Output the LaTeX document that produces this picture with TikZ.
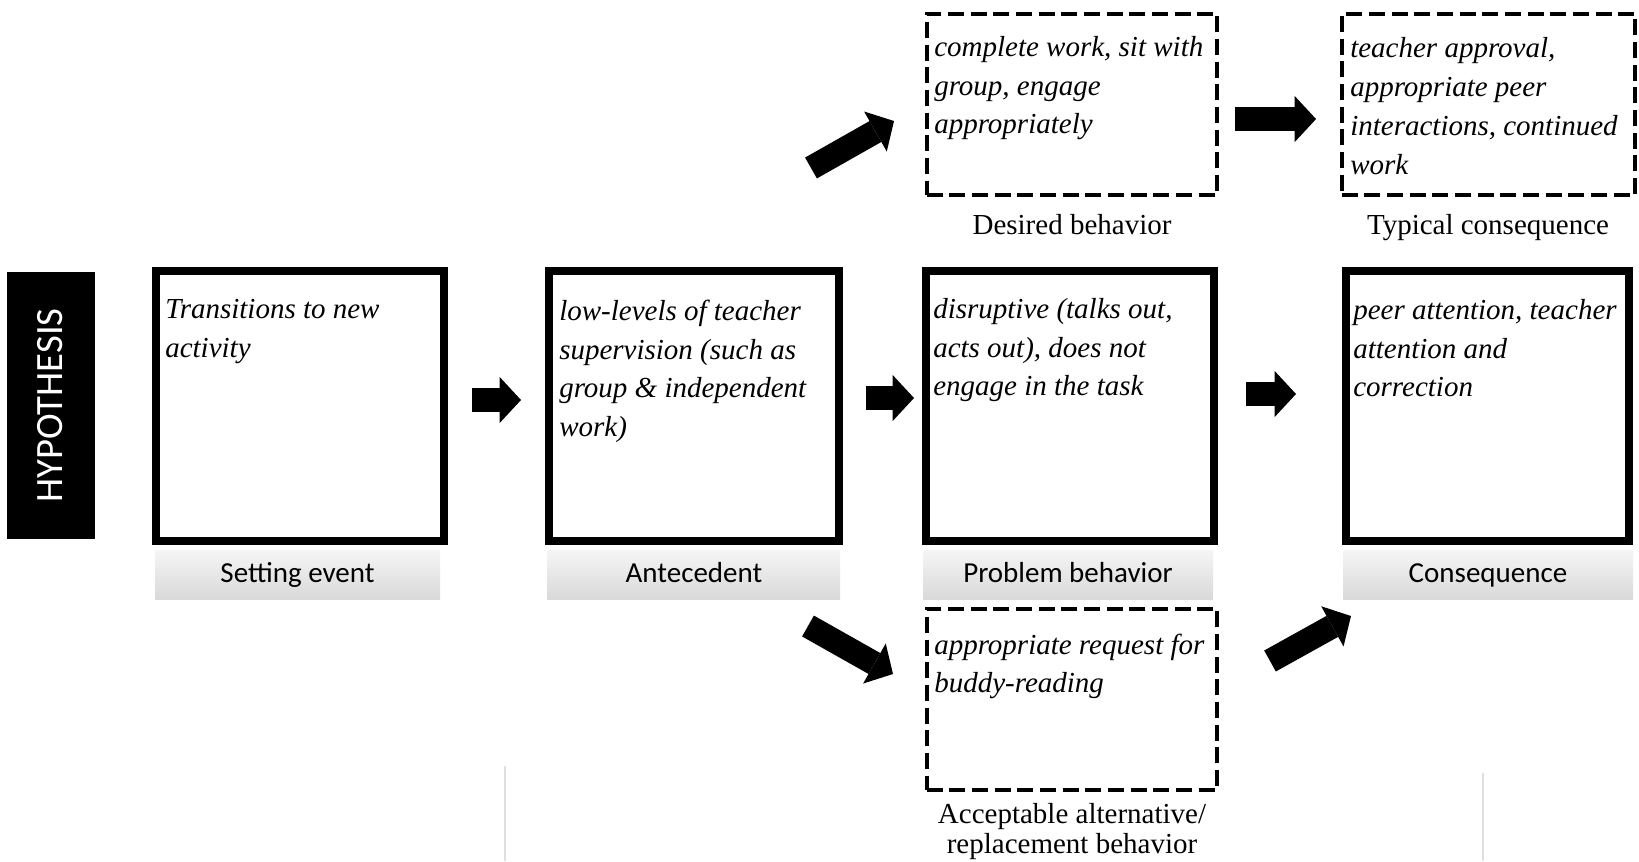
\documentclass[tikz,border=0pt]{standalone}
\usepackage{fontspec}
\setmainfont{Liberation Serif}[ItalicFont={Liberation Serif Italic}]
\newfontfamily\labelsans{Carlito}
\usetikzlibrary{arrows.meta,calc}

\begin{document}
\begin{tikzpicture}[x=0.75pt,y=-0.75pt,
  solidbox/.style={draw=black, line width=6pt, fill=white, inner sep=0pt, minimum height=202.5pt},
  dashbox/.style={draw=black, line width=3pt, dash pattern=on 12pt off 5pt, fill=white, inner sep=0pt, minimum height=136.1pt},
  itext/.style={anchor=north west, inner sep=0pt, align=left, font=\fontsize{21.75pt}{29pt}\selectfont\itshape},
  dtext/.style={itext, font=\fontsize{21.75pt}{29pt}\selectfont\itshape},
  band/.style={inner sep=0pt, draw=none, top color=gray!8, bottom color=gray!30, minimum height=36.75pt},
  bandtext/.style={anchor=base, inner sep=0pt, font=\labelsans\fontsize{21.75pt}{26pt}\selectfont},
  captext/.style={inner sep=0pt, align=center, font=\fontsize{21.75pt}{22.5pt}\selectfont},
  fat/.style={line width=18pt, -{Triangle[length=16pt,width=34.5pt,line width=0pt]}},
  ghost/.style={draw=gray!25, line width=1.5pt},
]
\useasboundingbox (0,0) rectangle (1639,861);

% hypothesis tab
\node[fill=black, inner sep=0pt, minimum width=66pt, minimum height=200.25pt] (hyp) at (51,405.5) {};
\node[rotate=90, text=white, inner sep=0pt, font=\labelsans\fontsize{29pt}{32pt}\selectfont] (hypT) at ([xshift=-1pt]hyp.center) {HYPOTHESIS};

% faint rules at the bottom
\draw[ghost] (505,766) -- (505,861);
\draw[ghost] (1483,773) -- (1483,861);

% caption bands under the main row
\node[band, minimum width=213.75pt] (setB) at (297.5,575) {};
\node[band, minimum width=219.75pt] (antB) at (693.5,575) {};
\node[band, minimum width=217.5pt] (probB) at (1068,575) {};
\node[band, minimum width=217.5pt] (consB) at (1488,575) {};
\node[bandtext] (setL) at (297.5,582) {Setting event};
\node[bandtext] (antL) at (694,582) {Antecedent};
\node[bandtext] (probL) at (1068,582) {Problem behavior};
\node[bandtext] (consL) at (1488,582) {Consequence};

% main row
\node[solidbox, minimum width=216pt] (set) at (300,406) {};
\node[solidbox, minimum width=217.5pt] (ant) at (694,406) {};
\node[solidbox, minimum width=216pt] (prob) at (1070,406) {};
\node[solidbox, minimum width=212.25pt] (cons) at (1487.5,406) {};

\node[itext] (setT) at (165,291) {\strut Transitions to new\\activity};
\node[itext] (antT) at (559,293) {\strut low-levels of teacher\\supervision (such as\\group \& independent\\work)};
\node[itext] (probT) at (933,291) {\strut disruptive (talks out,\\acts out), does not\\engage in the task};
\node[itext] (consT) at (1353,292) {\strut peer attention, teacher\\attention and\\correction};

% desired / typical consequence (top) and alternative (bottom)
\node[dashbox, minimum width=217.9pt] (des) at (1072,104.5) {};
\node[dashbox, minimum width=220.1pt] (typ) at (1488.5,104.5) {};
\node[dashbox, minimum width=217.9pt] (alt) at (1072,699.5) {};

\node[dtext] (desT) at (934,29) {\strut complete work, sit with\\group, engage\\appropriately};
\node[dtext, font=\fontsize{21.75pt}{29.25pt}\selectfont\itshape] (typT) at (1350,30) {\strut teacher approval,\\appropriate peer\\interactions, continued\\work};
\node[dtext, font=\fontsize{21.75pt}{28.25pt}\selectfont\itshape] (altT) at (934,628) {\strut appropriate request for\\buddy-reading};

\node[captext, anchor=base] (desL) at (1072,234) {Desired behavior};
\node[captext, anchor=base] (typL) at (1488,234) {Typical consequence};
\node[captext, anchor=north] (altL) at (1072,802) {\strut Acceptable alternative/\\replacement behavior};

% block arrows
\draw[fat, shorten <=18pt, shorten >=18pt] ([yshift=4.5pt]set.east) -- ([yshift=4.5pt]ant.west);
\draw[fat, shorten <=17.25pt, shorten >=6pt] ([yshift=6pt]ant.east) -- ([yshift=6pt]prob.west);
\draw[fat, shorten <=21pt, shorten >=34.5pt] ([yshift=9pt]prob.east) -- ([yshift=9pt]cons.west);
\draw[fat, shorten <=11.8pt, shorten >=17.8pt] ([yshift=-10.9pt]des.east) -- ([yshift=-10.9pt]typ.west);

\coordinate (upA) at (811,168);
\coordinate (upB) at (894,121);
\coordinate (dnA) at (808,626);
\coordinate (dnB) at (893,674);
\coordinate (rtA) at (1270,661);
\coordinate (rtB) at (1351,616);
\draw[fat] (upA) -- (upB);
\draw[fat] (dnA) -- (dnB);
\draw[fat] (rtA) -- (rtB);
\end{tikzpicture}
\end{document}
